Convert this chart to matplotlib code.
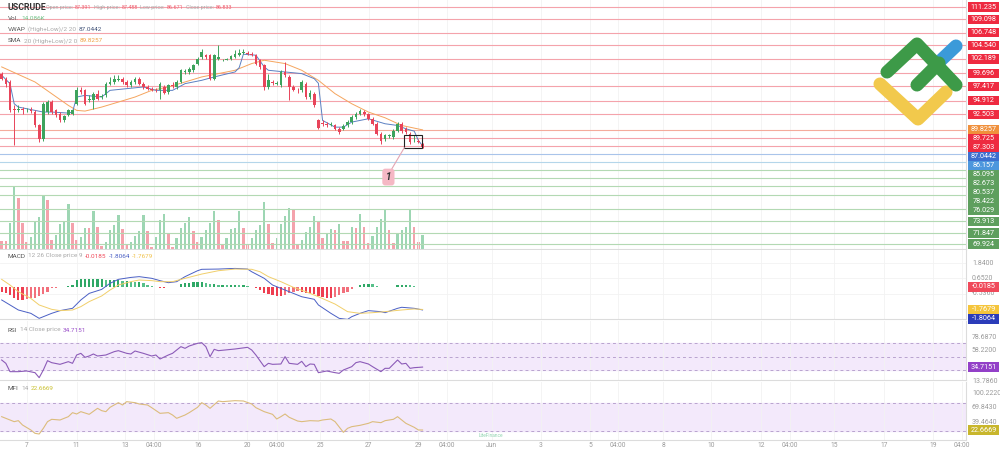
import numpy as np
import matplotlib
matplotlib.use('Agg')
import matplotlib.pyplot as plt
from matplotlib.patches import Rectangle
from matplotlib.lines import Line2D

plt.rcParams['font.family'] = ['Roboto', 'DejaVu Sans']

# ---------------- data ----------------
open_ = np.array([99.63, 98.75, 98.17, 93.51, 93.22, 93.51, 93.22, 93.33, 92.93, 90.59,
                  88.26, 92.93, 94.67, 93.22, 92.63, 91.47, 92.34, 92.52, 94.38, 96.71,
                  96.71, 94.97, 94.97, 96.13, 95.55, 95.84, 97.88, 98.17, 98.58, 98.75,
                  98.17, 97.59, 98.17, 98.75, 97.88, 97.30, 97.01, 96.83, 96.71, 97.30,
                  96.42, 97.59, 97.30, 98.17, 99.92, 99.92, 100.21, 101.38, 102.55, 102.84,
                  102.84, 98.75, 102.25, 101.96, 102.08, 102.25, 102.55, 102.84, 103.25, 103.25,
                  103.13, 102.84, 101.96, 101.09, 97.30, 98.17, 97.88, 97.59, 99.92, 99.05,
                  97.30, 96.83, 96.71, 97.88, 95.55, 96.13, 91.47, 91.00, 90.77, 90.59,
                  90.59, 90.01, 90.01, 90.59, 91.18, 92.05, 92.63, 92.93, 92.52, 91.76,
                  90.89, 89.14, 88.26, 88.67, 88.55, 89.60, 90.89, 90.01, 89.14, 87.85,
                  87.85, 87.391])
high = np.array([99.92, 99.05, 98.46, 94.09, 94.09, 93.80, 93.68, 93.80, 93.22, 90.89,
                 94.67, 94.97, 94.97, 93.51, 92.93, 92.34, 93.51, 93.51, 97.30, 97.30,
                 97.01, 95.84, 96.42, 96.71, 96.13, 98.17, 99.05, 99.34, 99.34, 99.05,
                 98.46, 98.46, 99.05, 99.05, 98.17, 97.59, 97.30, 97.18, 98.17, 97.59,
                 97.88, 98.17, 98.46, 100.50, 100.50, 100.80, 101.38, 102.55, 104.00, 103.13,
                 103.13, 103.13, 104.59, 102.25, 102.43, 102.84, 103.71, 104.00, 104.00, 103.59,
                 103.42, 103.13, 102.25, 101.38, 99.63, 98.46, 98.34, 100.21, 101.67, 99.34,
                 97.59, 97.18, 98.46, 98.17, 96.71, 96.42, 91.76, 91.47, 91.18, 91.18,
                 90.89, 90.30, 90.77, 91.47, 92.34, 92.93, 93.51, 93.22, 92.75, 92.05,
                 91.18, 89.43, 89.14, 89.14, 90.01, 91.18, 91.18, 90.30, 89.43, 88.85,
                 88.26, 87.488])
low = np.array([98.46, 97.30, 92.93, 87.10, 92.93, 92.63, 92.93, 92.75, 90.30, 87.68,
                87.97, 92.63, 92.63, 92.05, 91.18, 91.18, 92.17, 92.34, 94.09, 96.13,
                94.09, 94.67, 93.51, 94.97, 95.26, 95.55, 97.59, 97.88, 98.34, 97.88,
                97.30, 97.30, 97.88, 97.59, 97.01, 96.71, 96.60, 96.42, 95.26, 96.01,
                96.13, 97.18, 97.01, 98.00, 99.63, 99.63, 99.92, 101.09, 102.25, 102.25,
                98.58, 98.58, 101.96, 101.85, 101.96, 102.08, 102.43, 102.66, 103.01, 102.84,
                102.66, 101.09, 100.50, 96.71, 97.01, 97.59, 97.59, 97.30, 99.05, 94.97,
                96.60, 96.25, 96.42, 95.26, 95.26, 93.80, 90.01, 90.42, 90.30, 90.42,
                89.72, 89.14, 89.72, 90.30, 90.89, 91.76, 92.34, 92.17, 91.47, 90.59,
                88.85, 87.39, 87.97, 88.44, 88.26, 89.43, 89.25, 89.14, 87.39, 87.68,
                87.50, 86.671])
close = np.array([98.75, 97.88, 93.22, 93.22, 93.51, 93.22, 93.33, 93.10, 90.59, 88.26,
                  94.38, 94.67, 92.93, 92.34, 91.47, 92.17, 93.22, 93.22, 96.71, 96.42,
                  94.38, 95.26, 96.13, 95.26, 95.67, 97.88, 98.17, 98.75, 98.75, 98.17,
                  97.59, 98.17, 98.75, 97.88, 97.30, 97.01, 96.83, 96.71, 97.88, 96.25,
                  97.59, 97.41, 98.17, 100.21, 100.10, 100.50, 101.09, 102.25, 103.42, 102.55,
                  98.75, 102.84, 102.55, 102.08, 102.14, 102.66, 103.01, 103.25, 103.36, 103.13,
                  102.84, 101.38, 100.80, 97.30, 98.46, 98.00, 98.00, 99.92, 99.34, 97.30,
                  96.83, 96.71, 98.17, 95.55, 96.25, 94.09, 90.19, 90.77, 90.59, 90.77,
                  90.01, 89.43, 90.42, 91.18, 92.05, 92.63, 93.10, 92.52, 91.76, 90.89,
                  89.14, 87.97, 88.85, 88.85, 89.60, 90.89, 89.60, 89.43, 87.68, 87.97,
                  87.68, 86.833])

volume_k = np.array([8.4, 8.4, 26.5, 62.7, 50.9, 25.8, 7.4, 12.4, 27.5, 32.5,
                     53.3, 49.2, 9.0, 14.1, 25.1, 26.8, 44.9, 25.8, 9.0, 12.4,
                     20.8, 20.8, 38.2, 22.4, 3.0, 7.4, 19.1, 24.1, 34.2, 19.8,
                     4.0, 7.4, 13.1, 18.4, 34.2, 18.1, 2.3, 12.4, 29.1, 35.2,
                     16.4, 2.3, 10.7, 20.8, 25.8, 31.8, 18.1, 7.4, 11.7, 19.1,
                     26.5, 38.2, 29.1, 5.0, 10.7, 20.1, 20.8, 38.2, 21.4, 4.0,
                     10.7, 19.1, 24.1, 46.9, 25.1, 6.4, 10.7, 25.1, 33.2, 41.5,
                     39.9, 4.0, 9.0, 17.4, 22.4, 33.2, 27.5, 10.7, 16.4, 19.8,
                     19.1, 25.1, 8.4, 8.4, 22.4, 20.8, 34.8, 22.4, 6.4, 13.1,
                     21.8, 29.8, 39.2, 19.1, 5.7, 15.7, 19.1, 21.8, 39.2, 21.8,
                     7.4, 14.086])
volume_dir = ("rrggrrrggg" "grrggggrrg" "grgrrggggr" "rggggrrggg" "rrggggrrgg"
              "ggrrggggrr" "ggggrrgggg" "rrggggrrgg" "rgrrgrgrrg" "gggrrggggr" "rg")

sma_idx = [0, 8, 12, 16, 18, 20, 24, 28, 32, 36, 40, 44, 48, 52, 56, 60, 63, 68, 72, 76, 80, 84, 88, 92, 96, 101]
sma_val = [100.80, 98.17, 96.13, 94.09, 93.22, 93.10, 93.80, 94.67, 95.55, 96.71, 97.30, 98.17, 99.05,
           99.63, 100.21, 101.38, 101.96, 101.38, 100.21, 98.46, 96.13, 94.38, 92.93, 91.93, 90.59, 89.8257]

vwap_idx = [0, 2, 3, 4, 8, 10, 12, 16, 17, 18, 20, 24, 26, 30, 34, 37, 41, 44, 48, 51, 56, 57, 58, 61, 63,
            64, 68, 72, 75, 76, 77, 80, 82, 84, 88, 92, 95, 97, 99, 100, 101]
vwap_val = [99.34, 97.88, 94.38, 93.80, 93.22, 92.93, 92.93, 92.75, 92.93, 95.55, 95.84, 95.55, 96.71,
            97.01, 97.30, 96.71, 96.71, 97.88, 98.46, 99.05, 99.92, 100.68, 103.01, 102.84, 100.80,
            100.21, 99.92, 99.63, 98.75, 97.94, 91.47, 90.30, 90.30, 91.18, 91.76, 90.89, 90.59, 90.01,
            89.60, 87.97, 87.0442]

level_values = [111.235, 109.098, 106.748, 104.540, 102.189, 99.696, 97.417, 94.912, 92.503,
                89.8257, 89.725, 87.303, 87.0442, 86.157,
                85.095, 82.673, 80.537, 78.422, 76.029, 73.913, 71.847, 69.924]
level_kinds = ['r'] * 9 + ['sma', 'r', 'r', 'vwap', 'b'] + ['g'] * 8

macd_hist = np.array([-0.39, -0.47, -0.65, -0.91, -1.03, -1.03, -0.98, -0.91, -0.85, -0.72,
                      -0.57, -0.39, -0.13, -0.08, -0.05, -0.01, 0.08, 0.13, 0.52, 0.57,
                      0.57, 0.57, 0.57, 0.57, 0.57, 0.52, 0.52, 0.52, 0.52, 0.47,
                      0.47, 0.39, 0.34, 0.34, 0.26, 0.13, 0.02, 0.01, -0.08, -0.08,
                      -0.05, -0.01, 0.01, 0.18, 0.26, 0.31, 0.36, 0.39, 0.39, 0.26,
                      0.18, 0.18, 0.16, 0.16, 0.13, 0.13, 0.13, 0.10, 0.10, 0.08,
                      0.01, -0.13, -0.26, -0.47, -0.60, -0.65, -0.72, -0.72, -0.65, -0.52,
                      -0.39, -0.31, -0.39, -0.47, -0.52, -0.60, -0.72, -0.78, -0.85, -0.85,
                      -0.78, -0.65, -0.52, -0.39, -0.21, -0.01, 0.13, 0.21, 0.21, 0.18,
                      0.08, -0.05, -0.05, -0.05, 0.01, 0.16, 0.16, 0.16, 0.10, 0.05,
                      0.01, -0.0185])
macd_idx = [0, 2, 4, 7, 9, 12, 14, 17, 19, 21, 24, 26, 28, 31, 33, 36, 38, 40, 42, 44, 47, 48, 52,
            56, 59, 60, 63, 65, 68, 70, 72, 75, 76, 79, 81, 83, 84, 86, 88, 91, 92, 95, 96, 99, 101]
macd_val = [-1.03, -1.42, -1.81, -2.07, -2.46, -2.07, -1.86, -1.68, -1.03, -0.52, -0.21, 0.26, 0.57,
            0.72, 0.78, 0.65, 0.47, 0.31, 0.39, 0.78, 1.24, 1.35, 1.37, 1.42, 1.37, 1.16, 0.65, 0.13,
            -0.26, -0.52, -0.78, -0.98, -1.42, -2.07, -2.46, -2.54, -2.33, -2.07, -1.86, -1.94, -2.02,
            -1.68, -1.60, -1.68, -1.8064]
sig_idx = [0, 2, 4, 7, 9, 12, 14, 17, 19, 21, 24, 26, 28, 31, 33, 36, 38, 41, 44, 48, 52, 56, 60, 62,
           64, 67, 70, 73, 76, 80, 83, 86, 89, 92, 96, 99, 101]
sig_val = [0.57, 0.13, -0.39, -0.91, -1.42, -1.76, -1.86, -1.81, -1.55, -1.16, -0.72, -0.26, 0.13,
           0.39, 0.52, 0.47, 0.39, 0.39, 0.65, 0.98, 1.24, 1.37, 1.35, 1.16, 0.78, 0.39, -0.05,
           -0.39, -0.78, -1.35, -1.94, -2.07, -2.02, -1.94, -1.81, -1.73, -1.7679]

rsi_idx = [0, 1, 2, 4, 6, 8, 9, 10, 11, 12, 14, 16, 17, 18, 19, 20, 21, 22, 23, 25, 27, 28, 30, 31,
           32, 34, 36, 37, 38, 40, 41, 43, 44, 45, 47, 48, 49, 50, 51, 52, 56, 59, 60, 61, 63, 64,
           65, 67, 68, 69, 71, 72, 73, 74, 75, 76, 78, 80, 81, 82, 84, 85, 86, 88, 89, 91, 92, 93,
           95, 96, 97, 98, 99, 101]
rsi_val = [45.06, 40.19, 28.01, 28.01, 28.98, 26.55, 19.24, 30.45, 44.09, 41.17, 38.73, 42.63, 40.19,
           52.37, 54.81, 48.96, 50.91, 53.84, 50.91, 52.37, 57.25, 58.71, 54.81, 53.84, 58.22, 54.81,
           50.91, 52.37, 46.53, 52.37, 54.81, 64.56, 62.12, 65.53, 69.43, 70.40, 64.56, 49.94, 60.66,
           58.71, 61.15, 63.58, 59.68, 52.37, 35.32, 40.19, 38.73, 39.22, 49.94, 40.19, 38.73, 43.12,
           35.32, 39.22, 38.73, 26.55, 28.98, 26.55, 25.57, 30.45, 35.32, 41.17, 42.63, 39.22, 35.32,
           28.01, 32.88, 32.88, 45.06, 39.22, 40.19, 32.88, 33.86, 34.7151]

mfi_idx = [0, 1, 3, 4, 5, 7, 8, 9, 10, 11, 12, 14, 16, 17, 18, 19, 21, 23, 24, 25, 26, 28, 29, 30,
           32, 33, 35, 36, 38, 40, 41, 42, 44, 45, 47, 48, 49, 50, 52, 53, 56, 58, 60, 61, 63, 65,
           66, 67, 68, 69, 71, 72, 74, 76, 77, 79, 80, 82, 83, 84, 86, 88, 89, 91, 92, 94, 95, 96,
           97, 99, 100, 101]
mfi_val = [50.65, 47.16, 40.18, 42.27, 33.19, 22.72, 15.74, 14.34, 26.21, 40.18, 45.07, 43.67, 50.65,
           59.03, 56.24, 61.13, 55.54, 68.11, 63.22, 61.13, 70.21, 79.98, 75.09, 82.07, 79.98, 77.19,
           75.09, 69.51, 57.63, 59.03, 54.14, 47.16, 54.14, 59.03, 70.21, 79.98, 75.09, 68.11, 83.47,
           82.07, 84.17, 83.47, 77.19, 69.51, 61.13, 55.54, 45.77, 50.65, 56.24, 49.26, 41.57, 40.18,
           42.27, 41.57, 43.67, 45.77, 40.18, 17.83, 26.21, 29.70, 32.49, 36.69, 40.18, 38.08, 42.27,
           45.07, 50.65, 43.67, 36.69, 28.30, 22.72, 22.6669]

tick_pos = [6.05, 18.0, 29.7, 36.5, 47.2, 58.9, 66.0, 76.4, 88.1, 99.9, 106.9, 117.6, 129.4, 141.2,
            147.9, 158.7, 170.2, 182.2, 189.2, 199.7, 211.7, 223.5, 230.4]
tick_lab = ['7', '11', '13', '04:00', '16', '20', '04:00', '25', '27', '29', '04:00', 'Jun', '3', '5',
            '04:00', '8', '10', '12', '04:00', '15', '17', '19', '04:00']

macd_ticks = [1.84, 0.652, -0.536]
rsi_ticks = [78.687, 58.22, 13.786]
mfi_ticks = [100.222, 69.843, 39.464]

# ---------------- styling ----------------
UP, DOWN = '#3da35d', '#e8445a'
VOL_UP, VOL_DOWN = '#9dd6b3', '#f4a2ac'
LINE_COL = {'r': '#f4a3ab', 'sma': '#f4ab9c', 'vwap': '#a9c4ea', 'b': '#b4d6ea', 'g': '#b3d9b3'}
BOX_COL = {'r': '#ee2a40', 'sma': '#f0903c', 'vwap': '#3d6fcf', 'b': '#4d97dd', 'g': '#5e9f5e'}

W, H = 1000, 449
fig = plt.figure(figsize=(W / 100, H / 100), dpi=100)
fig.patch.set_facecolor('white')
XMIN, XMAX = -0.4, 231.4
PLOT_W = 966 / W


def panel(top, bottom, **kw):
    ax = fig.add_axes([0, 1 - bottom / H, PLOT_W, (bottom - top) / H], **kw)
    ax.set_xlim(XMIN, XMAX)
    for s in ('top', 'left'):
        ax.spines[s].set_visible(False)
    ax.spines['right'].set_color('#dcdcdc')
    ax.spines['bottom'].set_color('#dcdcdc')
    ax.spines['right'].set_linewidth(0.8)
    ax.spines['bottom'].set_linewidth(0.8)
    ax.set_yticks([])
    ax.set_xticks(tick_pos)
    ax.tick_params(axis='x', length=0, labelbottom=False)
    ax.grid(axis='x', color='#f2f2f2', lw=0.6)
    ax.set_axisbelow(True)
    return ax


def spread(ys, gap):
    ys = np.asarray(ys, float)
    out = ys.copy()
    prev = None
    for k in np.argsort(-ys):
        if prev is not None and out[k] > prev - gap:
            out[k] = prev - gap
        prev = out[k]
    return out


def to_disp(ax, vals):
    pts = np.column_stack([np.zeros(len(vals)), vals])
    return ax.transData.transform(pts)[:, 1]


def to_data(ax, ys):
    pts = np.column_stack([np.zeros(len(ys)), ys])
    return ax.transData.inverted().transform(pts)[:, 1]


def value_box(ypx, text, fc, fg='white'):
    fig.add_artist(Rectangle((968 / W, (ypx - 4.6) / H), 31 / W, 9.2 / H, transform=fig.transFigure,
                             fc=fc, ec='none', zorder=5))
    fig.text(983.5 / W, ypx / H, text, ha='center', va='center', fontsize=5.2, color=fg, zorder=6)


def axis_labels(ax, vals):
    for v, y in zip(vals, to_disp(ax, vals)):
        fig.text(972 / W, y / H, f'{v:.4f}', ha='left', va='center', fontsize=5, color='#9a9a9a', zorder=4)


renderer = fig.canvas.get_renderer()


def runs(x, ytop, parts):
    for s, c, size, w in parts:
        t = fig.text(x / W, 1 - ytop / H, s, color=c, fontsize=size, fontweight=w, ha='left', va='center')
        x += t.get_window_extent(renderer).width + 2.2


# ---------------- price panel ----------------
ax_v = panel(0, 249)
ax_v.set_ylim(0, 250)
ax_v.spines['bottom'].set_visible(False)
ax_v.spines['right'].set_visible(False)
ax_v.grid(False)
idx = np.arange(len(close))
vcol = [VOL_UP if d == 'g' else VOL_DOWN for d in volume_dir]
ax_v.bar(np.arange(len(volume_k)), volume_k, width=0.58, color=vcol, linewidth=0)

ax_p = panel(0, 249)
ax_p.patch.set_alpha(0)
ax_p.set_ylim(69.06, 112.46)

lv = np.array(level_values)
line_y = to_data(ax_p, spread(to_disp(ax_p, lv), 8))
for y, k in zip(line_y, level_kinds):
    ax_p.axhline(y, color=LINE_COL[k], lw=0.8, zorder=1)

up = close >= open_
ccol = np.where(up, UP, DOWN)
ax_p.vlines(idx, low, high, colors=ccol, lw=0.7, zorder=3)
ax_p.bar(idx, np.maximum(np.abs(close - open_), 0.07), bottom=np.minimum(open_, close),
         width=0.64, color=ccol, linewidth=0, zorder=4)
ax_p.plot(sma_idx, sma_val, color='#f5a55e', lw=0.7, zorder=2)
ax_p.plot(vwap_idx, vwap_val, color='#5b80c2', lw=0.7, zorder=2)

# drawing: box around last bars and numbered label
ax_p.add_patch(Rectangle((96.6, 86.69), 4.3, 2.27, fill=False, ec='#222222', lw=0.8, zorder=6))
ax_p.plot([96.6, 93.6], [86.69, 83.0], color='#e3a5b3', lw=0.8, zorder=6)
ax_p.text(92.8, 81.6, '1', ha='center', va='center', fontsize=7, fontstyle='italic', fontweight='bold',
          color='#333333', zorder=7,
          bbox=dict(boxstyle='round,pad=0.35,rounding_size=0.3', fc='#f5b8c4', ec='none'))

for y, v, k in zip(spread(to_disp(ax_p, lv), 9), level_values, level_kinds):
    txt = f'{v:.4f}' if k in ('sma', 'vwap') else f'{v:.3f}'
    value_box(y, txt, BOX_COL[k])

# ---------------- MACD ----------------
ax_m = panel(250, 319)
ax_m.set_ylim(-2.51, 2.85)
for t in macd_ticks:
    ax_m.axhline(t, color='#f3f3f3', lw=0.6, zorder=0)
hcol = []
for i, h in enumerate(macd_hist):
    prev = macd_hist[i - 1] if i else 0
    grow = abs(h) >= abs(prev)
    if h >= 0:
        hcol.append('#2fa866' if grow else '#57c08a')
    else:
        hcol.append('#ee3e50' if grow else '#f2707c')
ax_m.bar(idx, macd_hist, width=0.55, color=hcol, linewidth=0, zorder=2)
ax_m.plot(macd_idx, macd_val, color='#4a5fc4', lw=0.7, zorder=3)
ax_m.plot(sig_idx, sig_val, color='#f1cf6a', lw=0.7, zorder=3)
axis_labels(ax_m, macd_ticks)
mv = [-0.0185, -1.7679, -1.8064]
for y, v, c in zip(spread(to_disp(ax_m, mv), 9.5), mv, ['#f0495a', '#f5c53c', '#2b3cb9']):
    value_box(y, f'{v:.4f}', c)

# ---------------- RSI ----------------
ax_r = panel(321, 380)
ax_r.set_ylim(15.82, 102.08)
ax_r.axhspan(30, 70, color='#f3e9fb', zorder=0)
for lvl in (70, 50, 30):
    ax_r.axhline(lvl, color='#b9a3cf', lw=0.7, ls=(0, (3, 3)), zorder=1)
ax_r.plot(rsi_idx, rsi_val, color='#8c5bb8', lw=0.8, zorder=3)
axis_labels(ax_r, rsi_ticks)
value_box(to_disp(ax_r, [34.7151])[0], '34.7151', '#9340c8')

# ---------------- MFI ----------------
ax_f = panel(382, 440)
ax_f.set_ylim(1.76, 123.27)
ax_f.axhspan(20, 80, color='#f3e9fb', zorder=0)
for lvl in (80, 20):
    ax_f.axhline(lvl, color='#b9a3cf', lw=0.7, ls=(0, (3, 3)), zorder=1)
ax_f.plot(mfi_idx, mfi_val, color='#dcbc7c', lw=0.8, zorder=3)
axis_labels(ax_f, mfi_ticks)
value_box(to_disp(ax_f, [22.6669])[0], '22.6669', '#c8b62c')
ax_f.set_xticklabels(tick_lab)
ax_f.tick_params(axis='x', length=0, pad=1.5, labelsize=4.8, labelcolor='#9a9a9a', labelbottom=True)
ax_f.text(117.5, 6, 'LiteFinance', ha='center', va='bottom', fontsize=3.4, color='#8fd3b0')

# ---------------- legend texts ----------------
G, D = '#a9a9a9', '#555555'
runs(8, 7.5, [('USCRUDE', '#333333', 6.3, 'bold')])
runs(46, 7.5, [('Open price:', G, 3.9, 'normal'), ('87.391', '#ef6070', 3.9, 'normal'),
               ('High price:', G, 3.9, 'normal'), ('87.488', '#ef6070', 3.9, 'normal'),
               ('Low price:', G, 3.9, 'normal'), ('86.671', '#ef6070', 3.9, 'normal'),
               ('Close price:', G, 3.9, 'normal'), ('86.833', '#ef6070', 3.9, 'normal')])
runs(8, 18, [('Vol.', D, 4.6, 'normal'), ('14.086K', '#70c286', 4.6, 'normal')])
runs(8, 29.5, [('VWAP', D, 4.6, 'normal'), ('(High+Low)/2 20', G, 4.6, 'normal'),
               ('87.0442', '#44557a', 4.6, 'normal')])
runs(8, 41, [('SMA', D, 4.6, 'normal'), ('20 (High+Low)/2 0', G, 4.6, 'normal'),
             ('89.8257', '#f0a040', 4.6, 'normal')])
runs(8, 256, [('MACD', D, 4.6, 'normal'), ('12 26 Close price 9', G, 4.6, 'normal'),
              ('-0.0185', '#f0495a', 4.6, 'normal'), ('-1.8064', '#4a5fc4', 4.6, 'normal'),
              ('-1.7679', '#f1c24a', 4.6, 'normal')])
runs(8, 330, [('RSI', D, 4.6, 'normal'), ('14 Close price', G, 4.6, 'normal'),
              ('34.7151', '#9a4fc9', 4.6, 'normal')])
runs(8, 388.5, [('MFI', D, 4.6, 'normal'), ('14', G, 4.6, 'normal'), ('22.6669', '#c9c030', 4.6, 'normal')])

# ---------------- logo ----------------
def stroke(pts, color):
    xs = [p[0] / W for p in pts]
    ys = [1 - p[1] / H for p in pts]
    fig.add_artist(Line2D(xs, ys, transform=fig.transFigure, color=color, lw=9.4,
                          solid_capstyle='round', solid_joinstyle='round', zorder=8))


stroke([(938, 63), (956, 46)], '#3b9ad9')
stroke([(880, 84), (918, 119), (946, 92)], '#f2c94c')
stroke([(887, 72), (917, 44), (956, 85)], '#3d9a48')
stroke([(917, 85), (939, 63)], '#3d9a48')

fig.savefig('out.png', dpi=100)
